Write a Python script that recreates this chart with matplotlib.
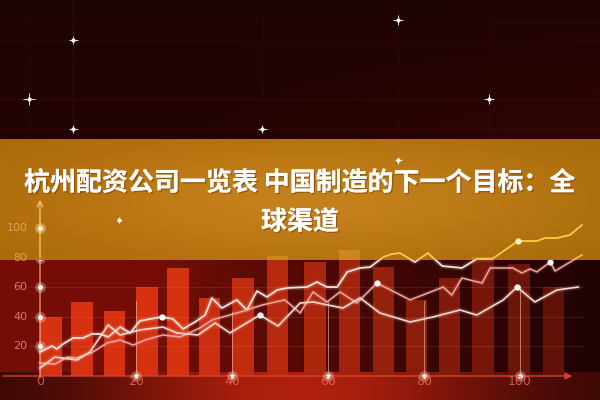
import numpy as np
import matplotlib.pyplot as plt
import matplotlib.patheffects as pe
from matplotlib.patches import Rectangle

plt.rcParams['font.family'] = ['Noto Sans CJK SC', 'DejaVu Sans']

# Title text
title_line1 = '杭州配资公司一览表 中国制造的下一个目标：全'
title_line2 = '球渠道'

# Bars behind the lines
bar_x = [2.3, 8.75, 15.6, 22.3, 28.75, 35.4, 42.3, 49.4, 57.3, 64.4, 71.5, 78.5, 85.4, 92.3, 99.8, 106.9]
bar_h = [39.9, 50.0, 43.9, 60.1, 73.0, 52.7, 66.2, 81.1, 77.0, 85.1, 73.6, 51.4, 66.2, 80.4, 76.0, 60.0]

# Upper line (turns yellow inside the banner)
line1_x = [0, 2.5, 3.5, 4.8, 6.9, 9.0, 10.8, 12.5, 14.2, 16.7, 18.8, 20.8, 22.9, 25.4, 27.7, 29.8,
           32.3, 34.4, 35.8, 37.9, 41.0, 43.1, 45.2, 47.3, 49.4, 51.5, 55.6, 57.7, 59.8, 61.9, 64.0,
           66.7, 68.8, 71.5, 73.3, 75.0, 78.1, 80.8, 83.8, 87.9, 91.0, 94.2, 99.6, 103.5, 105.2,
           107.7, 110.4, 112.9]
line1_y = [16.2, 20.3, 18.2, 21.6, 25.7, 25.7, 28.4, 28.4, 26.4, 33.1, 29.1, 37.2, 38.5, 39.9, 38.5, 31.8,
           36.5, 41.2, 52.7, 45.9, 51.4, 44.6, 57.4, 53.4, 58.1, 59.5, 60.1, 63.5, 60.1, 60.1, 70.3,
           73.0, 73.6, 80.4, 82.4, 83.1, 77.0, 83.1, 74.3, 73.0, 79.1, 79.1, 91.2, 91.2, 93.2,
           93.2, 95.3, 102.0]
line1_marks = [13, 42]

# Middle pink line
line2_x = [0, 3.1, 5.8, 7.7, 11.0, 14.0, 16.7, 19.4, 21.9, 25.6, 29.2, 33.3, 35.8, 41.7, 46.3, 51.0,
           54.2, 56.9, 59.8, 62.5, 66.0, 70.2, 77.1, 84.0, 85.8, 87.9, 92.1, 93.8, 98.5, 100.4,
           102.1, 103.5, 106.3, 107.3, 112.9]
line2_y = [8.8, 8.1, 12.8, 12.2, 16.2, 22.3, 24.3, 20.9, 24.3, 27.7, 26.4, 32.4, 37.8, 43.2, 48.0, 51.4,
           42.6, 56.8, 50.0, 56.8, 49.3, 62.8, 51.4, 60.1, 54.7, 66.2, 62.8, 73.0, 73.0, 69.6,
           72.3, 70.3, 77.0, 70.9, 81.8]
line2_marks = [21, 32]

# Lower white line
line3_x = [0, 3.1, 7.7, 10.4, 14.2, 16.7, 20.8, 25.6, 28.5, 32.9, 36.5, 39.6, 45.8, 49.6, 54.2, 56.9,
           63.1, 66.7, 70.8, 77.1, 81.9, 87.5, 91.0, 96.5, 99.4, 103.1, 107.7, 112.1]
line3_y = [5.4, 12.8, 10.8, 16.2, 34.5, 27.7, 31.1, 33.1, 29.1, 27.7, 35.8, 29.1, 41.2, 33.8, 49.3, 50.0,
           45.9, 52.7, 42.6, 36.5, 39.9, 44.6, 41.2, 51.4, 60.1, 50.0, 58.1, 60.1]
line3_marks = [12, 24]

# Axes ticks
y_ticks = [20, 40, 60, 80, 100]
x_ticks = [0, 20, 40, 60, 80, 100]
x_drop = [51, 43, 51, 51, 61]   # drop lines from the x tick dots

# Sparkles in the dark sky
spark_x = [6.9, -2.3, 6.9, 46.3, 74.6, 93.5, 74.6, 16.5]
spark_y = [227.0, 187.2, 166.9, 166.9, 240.5, 187.2, 145.9, 105.4]
spark_s = [5, 7, 5, 5, 6, 6, 4, 3]

xlim = (-8.333, 116.667)
ylim = (-16.216, 254.054)
banner_lo, banner_hi = 78.4, 159.5

fig = plt.figure(figsize=(6, 4), dpi=100)
ax = fig.add_axes([0, 0, 1, 1])
ax.set_xlim(xlim)
ax.set_ylim(ylim)
ax.axis('off')

# background gradient (pixel space)
py, px = np.mgrid[0:400, 0:600].astype(float)
dark = np.array([30, 3, 3]) / 255
red = np.array([118, 14, 7]) / 255
glow = np.array([175, 32, 14]) / 255
w_chart = np.clip((620 - px) / 470, 0, 1) ** 1.3
img = dark + (red - dark) * w_chart[..., None]
top = py < 140
w_top = (py / 140) * 0.35 * np.clip(px / 600, 0.3, 1)
img[top] = (dark + (np.array([75, 10, 6]) / 255 - dark) * w_top[..., None])[top]
bot = py > 371
w_bot = np.exp(-((px - 300) / 210) ** 2)
img_bot = np.array([45, 5, 4]) / 255 + (glow - np.array([45, 5, 4]) / 255) * w_bot[..., None]
img[bot] = img_bot[bot]
ax.imshow(img, extent=(xlim[0], xlim[1], ylim[0], ylim[1]), aspect='auto', origin='upper', zorder=0)

# faint sky grid through the sparkles
for sx in spark_x[:6]:
    ax.axvline(sx, ymin=0.58, ymax=1, color='#ff6040', alpha=0.04, lw=1, zorder=1)
for sy in spark_y[:6]:
    ax.axhline(sy, color='#ff6040', alpha=0.04, lw=1, zorder=1)

# bars, brighter on the left
bx = np.array(bar_x)
fade = np.clip((118 - bx) / 90, 0, 1)
lo_c = np.array([80, 12, 6]) / 255
hi_c = np.array([214, 50, 16]) / 255
bar_colors = [lo_c + (hi_c - lo_c) * f for f in fade]
ax.bar(bar_x, bar_h, width=4.4, color=bar_colors, zorder=2)

# faint horizontal grid
for v in y_ticks[:4]:
    ax.axhline(v, xmin=0.05, xmax=0.97, color='#ff8a70', alpha=0.15, lw=0.8, zorder=2.5)

# axes
ax.annotate('', xy=(111.5, 0), xytext=(xlim[0], 0),
            arrowprops=dict(arrowstyle='-|>', color='#d9452c', lw=1.2, alpha=0.8), zorder=3)
ax.annotate('', xy=(0, 121), xytext=(0, -3),
            arrowprops=dict(arrowstyle='->', color='#f7b48a', lw=1.0, alpha=0.85), zorder=3)
for xt, d in zip(x_ticks[1:], x_drop):
    ax.plot([xt, xt], [0, d], color='#f8c0b0', lw=0.7, alpha=0.6, zorder=3)

below = Rectangle((xlim[0], ylim[0]), xlim[1] - xlim[0], banner_lo - ylim[0], transform=ax.transData)
inside = Rectangle((xlim[0], banner_lo), xlim[1] - xlim[0], banner_hi - banner_lo, transform=ax.transData)

series = [(line1_x, line1_y, line1_marks, '#fbe2da', 1.3),
          (line2_x, line2_y, line2_marks, '#f2a6a0', 1.1),
          (line3_x, line3_y, line3_marks, '#f8d8cf', 1.2)]
for xs, ys, marks, col, lw in series:
    g, = ax.plot(xs, ys, color=col, lw=lw * 3, alpha=0.15, zorder=4)
    g.set_clip_path(below)
    ln, = ax.plot(xs, ys, color=col, lw=lw, zorder=4)
    ln.set_clip_path(below)
    mx = [xs[i] for i in marks]
    my = [ys[i] for i in marks]
    ax.scatter(mx, my, s=12, color='white', zorder=4.5)

# tick dots with glow
ax.scatter([0] * len(y_ticks), y_ticks, s=60, color='#ffd8c8', alpha=0.35, zorder=4, lw=0)
ax.scatter([0] * len(y_ticks), y_ticks, s=14, color='#fff4ee', zorder=4.5, lw=0)
ax.scatter(x_ticks[1:], [0] * 5, s=60, color='#ffd8c8', alpha=0.35, zorder=4, lw=0)
ax.scatter(x_ticks[1:], [0] * 5, s=14, color='#fff4ee', zorder=4.5, lw=0)

# banner with a soft lighter centre
ban = np.zeros((120, 600, 4))
by, bxp = np.mgrid[0:120, 0:600].astype(float)
w_ban = np.exp(-((bxp - 320) / 300) ** 2 - ((by - 60) / 70) ** 2)
base = np.array([172, 108, 6]) / 255
light = np.array([205, 138, 30]) / 255
ban[..., :3] = base + (light - base) * w_ban[..., None]
ban[..., 3] = 0.94
ax.imshow(ban, extent=(xlim[0], xlim[1], banner_lo, banner_hi), aspect='auto', origin='upper', zorder=5)
ax.set_xlim(xlim)
ax.set_ylim(ylim)
bb = ax.bar(bar_x, bar_h, width=4.4, color='#e89a2a', alpha=0.45, zorder=5.5)
for p in bb:
    p.set_clip_path(inside)
yl, = ax.plot(line1_x, line1_y, color='#f8cc48', lw=1.3, zorder=6)
yl.set_clip_path(inside)
ax.scatter([line1_x[42]], [line1_y[42]], s=12, color='#fff2c0', zorder=6.5)
yl2, = ax.plot(line2_x, line2_y, color='#f8cc48', lw=1.1, zorder=6)
yl2.set_clip_path(inside)
ax.annotate('', xy=(0, 121), xytext=(0, banner_lo),
            arrowprops=dict(arrowstyle='->', color='#f3c060', lw=1.0), zorder=6)
ax.scatter([0], [100], s=60, color='#ffe0a0', alpha=0.4, zorder=6, lw=0)
ax.scatter([0], [100], s=14, color='#fff6d8', zorder=6.5, lw=0)

# sparkles
ax.scatter(spark_x, spark_y, s=[v ** 2 * 1.6 for v in spark_s], marker='+', color='white',
           lw=0.7, alpha=0.85, zorder=7)
ax.scatter(spark_x, spark_y, s=4, color='white', zorder=7)

# tick labels
for v in y_ticks:
    c = '#e3ae6a' if v > banner_lo else '#e8907f'
    ax.text(-2.6, v, str(v), ha='right', va='center', fontsize=8, color=c, alpha=0.85,
            family='DejaVu Sans', zorder=8)
for v in x_ticks:
    ax.text(v, -3.4, str(v), ha='center', va='center', fontsize=9, color='#e8664e', alpha=0.85,
            family='DejaVu Sans', zorder=8)

# title
shadow = [pe.withSimplePatchShadow(offset=(1, -1), shadow_rgbFace='#6a3a00', alpha=0.5), pe.Normal()]
fig.text(0.5, 1 - 183 / 400, title_line1, ha='center', va='center', fontsize=18.7,
         fontweight='bold', color='white', path_effects=shadow, zorder=10)
fig.text(0.5, 1 - 222 / 400, title_line2, ha='center', va='center', fontsize=18.7,
         fontweight='bold', color='white', path_effects=shadow, zorder=10)

fig.savefig('out.png', dpi=100)
